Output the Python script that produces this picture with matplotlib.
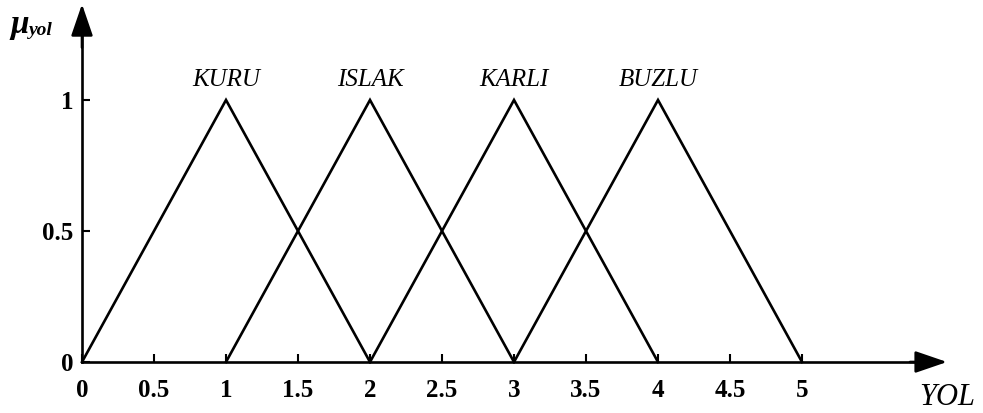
import numpy as np
import matplotlib
matplotlib.use("Agg")
import matplotlib.pyplot as plt

# fuzzy sets for road condition (YOL)
set_names = ["KURU", "ISLAK", "KARLI", "BUZLU"]
left_feet = [0, 1, 2, 3]
peaks = [1, 2, 3, 4]
right_feet = [2, 3, 4, 5]

x_ticks = [0, 0.5, 1, 1.5, 2, 2.5, 3, 3.5, 4, 4.5, 5]
x_tick_labels = ["0", "0.5", "1", "1.5", "2", "2.5", "3", "3.5", "4", "4.5", "5"]
y_ticks = [0, 0.5, 1]
y_tick_labels = ["0", "0.5", "1"]

plt.rcParams['font.family'] = ['Liberation Serif', 'DejaVu Serif']

fig = plt.figure(figsize=(9.83, 4.13), dpi=100)
ax = fig.add_axes([0, 0, 1, 1])
ax.set_xlim(-82 / 144, (983 - 82) / 144)
ax.set_ylim((362 - 413) / 262, 362 / 262)

for a, b, c in zip(left_feet, peaks, right_feet):
    ax.plot([a, b, c], [0, 1, 0], color='black', lw=1.9, solid_joinstyle='miter')

for name, b in zip(set_names, peaks):
    ax.text(b, 1.075, name, ha='center', va='center', fontsize=18, style='italic')

# axes as spines through the origin
for s in ['top', 'right']:
    ax.spines[s].set_visible(False)
ax.spines['bottom'].set_position(('data', 0))
ax.spines['left'].set_position(('data', 0))
ax.spines['bottom'].set_bounds(0, 5.9)
ax.spines['left'].set_bounds(0, 1.3)
ax.spines['bottom'].set_linewidth(1.9)
ax.spines['left'].set_linewidth(1.9)

ax.set_xticks(x_ticks)
ax.set_xticklabels(x_tick_labels, fontsize=18, fontweight='bold')
ax.set_yticks(y_ticks)
ax.set_yticklabels(y_tick_labels, fontsize=18, fontweight='bold')
ax.tick_params(axis='x', direction='in', length=6, width=1.5, pad=12)
ax.tick_params(axis='y', direction='in', length=6, width=1.5, pad=6)

# arrow heads
head = '-|>,head_length=0.7,head_width=0.24'
ax.annotate('', xy=(6.007, 0), xytext=(5.75, 0),
            arrowprops=dict(arrowstyle=head, color='black', lw=1.9,
                            mutation_scale=28, shrinkA=0, shrinkB=0))
ax.annotate('', xy=(0, 1.366), xytext=(0, 1.2),
            arrowprops=dict(arrowstyle=head, color='black', lw=1.9,
                            mutation_scale=28, shrinkA=0, shrinkB=0))

ax.text(6.01, -0.134, "YOL", ha='center', va='center', fontsize=22, style='italic')
ax.text(-0.435, 1.29, "\u03bc", ha='center', va='center', fontsize=24,
        style='italic', fontweight='bold')
ax.text(-0.365, 1.265, "yol", ha='left', va='center', fontsize=14,
        style='italic', fontweight='bold')

fig.savefig("out.png", dpi=100)
